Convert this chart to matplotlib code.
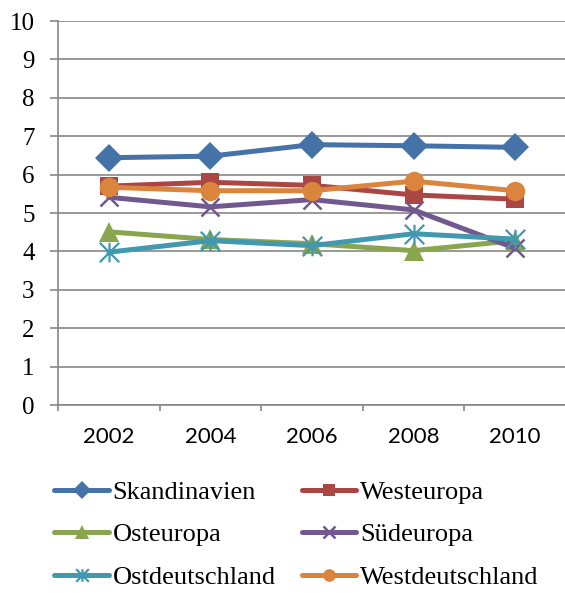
import matplotlib
matplotlib.use("Agg")
import matplotlib.pyplot as plt
from matplotlib.path import Path

years = ["2002", "2004", "2006", "2008", "2010"]
skandinavien = [6.44, 6.48, 6.78, 6.75, 6.71]
westeuropa = [5.70, 5.80, 5.72, 5.47, 5.36]
osteuropa = [4.51, 4.31, 4.20, 4.02, 4.28]
suedeuropa = [5.41, 5.16, 5.35, 5.08, 4.08]
ostdeutschland = [3.98, 4.28, 4.15, 4.46, 4.32]
westdeutschland = [5.67, 5.58, 5.58, 5.83, 5.58]

star = Path([(0, -1), (0, 1), (-1, -1), (1, 1), (-1, 1), (1, -1)],
            [Path.MOVETO, Path.LINETO, Path.MOVETO, Path.LINETO, Path.MOVETO, Path.LINETO])

series = [
    ("Skandinavien", skandinavien, "#4572A7", "D", 14, 0),
    ("Westeuropa", westeuropa, "#AA4643", "s", 13, 0),
    ("Osteuropa", osteuropa, "#89A54E", "^", 15, 0),
    ("Südeuropa", suedeuropa, "#71588F", "x", 13, 1.8),
    ("Ostdeutschland", ostdeutschland, "#4198AF", star, 14, 1.6),
    ("Westdeutschland", westdeutschland, "#DB843D", "o", 14, 0),
]

plt.rcParams['font.family'] = ['Liberation Serif', 'DejaVu Serif']

fig = plt.figure(figsize=(5.65, 5.93), dpi=100)
ax = fig.add_axes([58/565, 1-405/593, (566-58)/565, (405-21)/593])

xs = list(range(len(years)))
handles = {}
for name, vals, col, mk, ms, mew in series:
    kw = dict(color=col, lw=3.6, marker=mk, markersize=ms, zorder=3, solid_capstyle='round')
    if mew:
        kw.update(markeredgewidth=mew, markeredgecolor=col, markerfacecolor='none')
    else:
        kw.update(markeredgewidth=0)
    ln, = ax.plot(xs, vals, **kw)
    handles[name] = ln

ax.set_xlim(-0.5, len(years) - 0.5)
ax.set_ylim(0, 10)
ax.set_yticks(range(0, 11))
ax.set_yticklabels([str(i) for i in range(0, 11)], fontsize=18)
ax.set_xticks(xs)
ax.set_xticklabels(years, fontsize=16, family=['Lato', 'DejaVu Sans'])
ax.tick_params(axis='x', which='major', length=0, pad=16)
ax.set_xticks([i - 0.5 for i in range(len(years) + 1)], minor=True)
ax.tick_params(axis='x', which='minor', length=4.5, width=1.2, color='#888888', direction='out')
ax.tick_params(axis='y', length=5.8, width=1.2, color='#888888', pad=11)
ax.grid(axis='y', color='#888888', lw=1.2, zorder=0)
ax.set_axisbelow(True)
for s in ['top', 'right']:
    ax.spines[s].set_visible(False)
for s in ['left', 'bottom']:
    ax.spines[s].set_color('#888888')
    ax.spines[s].set_linewidth(1.2)

names = [s[0] for s in series]
ordered = [names[i] for i in [0, 2, 4, 1, 3, 5]]
leg = fig.legend([handles[n] for n in ordered], ordered, ncol=2, loc='upper left',
                 bbox_to_anchor=(36/565, 1-462/593), frameon=False, fontsize=19,
                 handlelength=2.05, handletextpad=0.15, columnspacing=1.0,
                 labelspacing=0.72, markerscale=0.65, borderpad=0.2)

fig.savefig("out.png", dpi=100)
